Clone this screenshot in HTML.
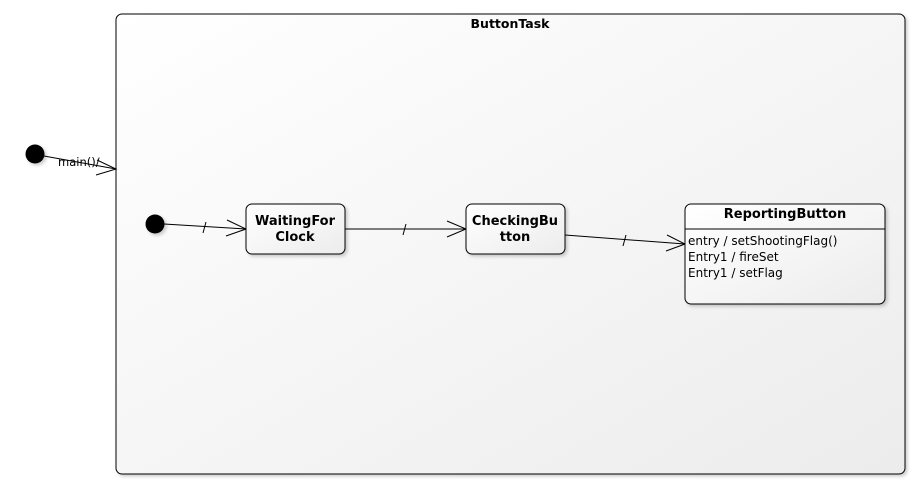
<!DOCTYPE html>
<html><head><meta charset="utf-8"><style>
body{margin:0;background:#fff;}
svg{display:block;}
text{font-family:"DejaVu Sans","Liberation Sans",sans-serif;fill:#000;}
</style></head><body>
<svg width="920" height="489" viewBox="0 0 920 489" xmlns="http://www.w3.org/2000/svg">
<defs>
<linearGradient id="g" x1="0" y1="0" x2="1" y2="1">
<stop offset="0" stop-color="#ffffff"/><stop offset="1" stop-color="#ececec"/>
</linearGradient>
<filter id="s" x="-10%" y="-10%" width="130%" height="130%"><feDropShadow dx="2" dy="2" stdDeviation="1.5" flood-color="#000" flood-opacity="0.2"/></filter>
</defs>
<rect x="116" y="14" width="789" height="460" rx="6" fill="url(#g)" stroke="#000" stroke-width="1" filter="url(#s)"/>
<text x="510" y="28" font-size="12.5" font-weight="bold" text-anchor="middle">ButtonTask</text>

<circle cx="35" cy="154" r="9.5" fill="#000" filter="url(#s)"/>
<line x1="44" y1="156" x2="116" y2="169" stroke="#000"/>
<polyline points="97,160 116,169 96,175" fill="none" stroke="#000"/>
<text x="58" y="166" font-size="11.5">main()/</text>

<circle cx="155" cy="224" r="9.5" fill="#000" filter="url(#s)"/>
<line x1="164" y1="224" x2="246" y2="229" stroke="#000"/>
<polyline points="227,220 246,229 226,236" fill="none" stroke="#000"/>
<line x1="203" y1="233" x2="206" y2="222" stroke="#000"/>

<rect x="246" y="204" width="99" height="50" rx="6" fill="url(#g)" stroke="#000" filter="url(#s)"/>
<text x="295" y="225" font-size="13" font-weight="bold" text-anchor="middle">WaitingFor</text>
<text x="295" y="241" font-size="13" font-weight="bold" text-anchor="middle">Clock</text>

<line x1="345" y1="229" x2="466" y2="229" stroke="#000"/>
<polyline points="447,221 466,229 447,237" fill="none" stroke="#000"/>
<line x1="403" y1="235" x2="406" y2="224" stroke="#000"/>

<rect x="466" y="204" width="99" height="50" rx="6" fill="url(#g)" stroke="#000" filter="url(#s)"/>
<text x="515" y="225" font-size="13" font-weight="bold" text-anchor="middle">CheckingBu</text>
<text x="515" y="241" font-size="13" font-weight="bold" text-anchor="middle">tton</text>

<line x1="565" y1="235" x2="685" y2="244" stroke="#000"/>
<polyline points="667,235 685,244 666,251" fill="none" stroke="#000"/>
<line x1="623" y1="246" x2="626" y2="235" stroke="#000"/>

<rect x="685" y="204" width="200" height="100" rx="6" fill="url(#g)" stroke="#000" filter="url(#s)"/>
<line x1="685" y1="229" x2="885" y2="229" stroke="#000"/>
<text x="785" y="218" font-size="13" font-weight="bold" text-anchor="middle">ReportingButton</text>
<text x="688" y="245" font-size="12">entry / setShootingFlag()</text>
<text x="688" y="261" font-size="12">Entry1 / fireSet</text>
<text x="688" y="277" font-size="12">Entry1 / setFlag</text>
</svg>
</body></html>
